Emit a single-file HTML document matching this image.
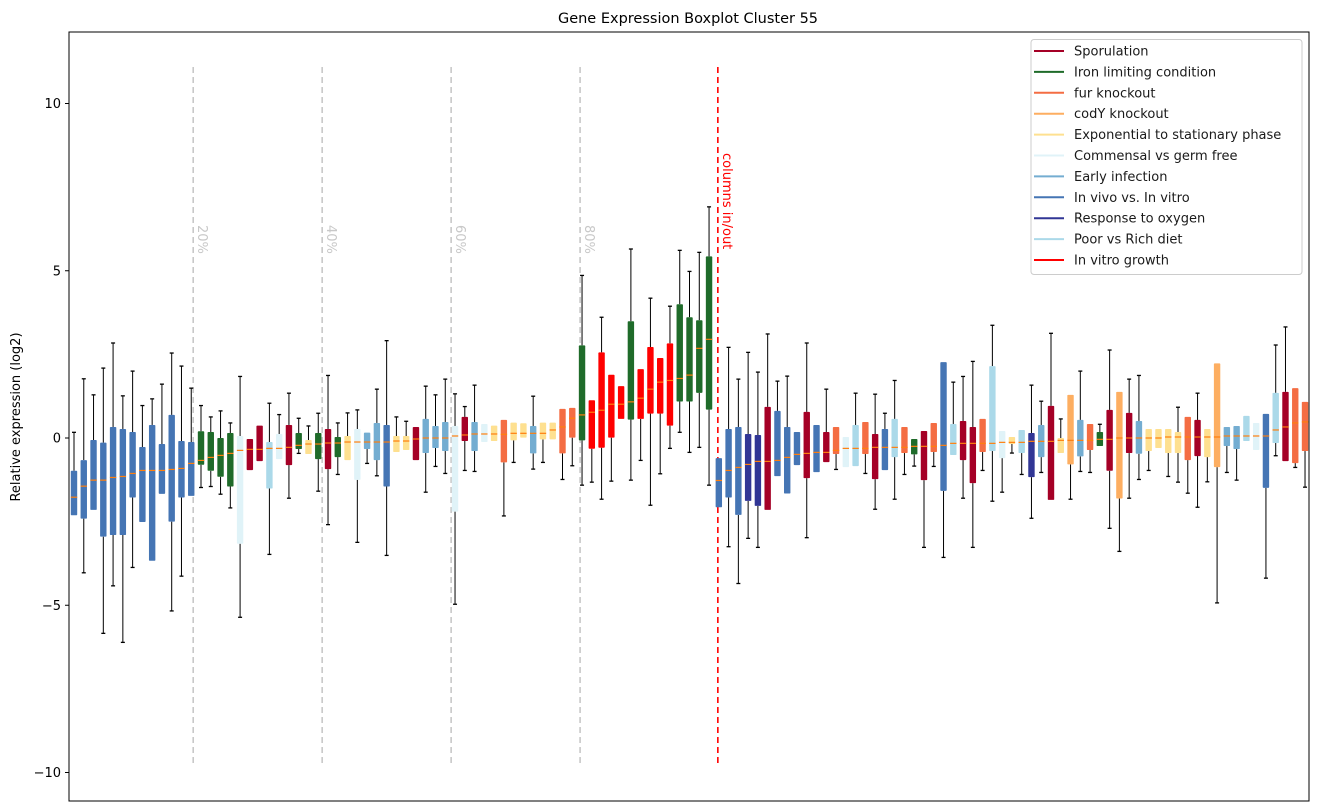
<!DOCTYPE html>
<html><head><meta charset="utf-8">
<style>
html,body{margin:0;padding:0;background:#fff;}
svg{display:block;font-family:"DejaVu Sans","Liberation Sans",sans-serif;}
</style></head>
<body>
<svg id="chart" width="1318" height="812" viewBox="0 0 1318 812" xmlns="http://www.w3.org/2000/svg">
<rect x="0" y="0" width="1318" height="812" fill="#fff"/>
<text x="688" y="23" text-anchor="middle" font-size="14.5" fill="#000">Gene Expression Boxplot Cluster 55</text>
<text transform="translate(20,417) rotate(-90)" text-anchor="middle" font-size="13" fill="#000">Relative expression (log2)</text>
<g id="grid"></g>
<g id="boxes"></g>
<rect x="69" y="32" width="1240" height="769" fill="none" stroke="#000" stroke-width="1"/>
<g id="yaxis"></g>
<g id="legend"></g>
</svg>
<script>
const groups = ["V","V","V","V","V","V","V","V","V","V","V","V","V","I","I","I","I","G","S","S","P","G","S","I","E","I","S","I","E","G","A","A","V","E","E","S","A","A","A","G","S","A","G","E","F","E","E","A","E","E","F","F","I","R","R","R","R","I","R","R","R","R","I","I","I","I",
"V","V","V","O","O","S","V","V","V","S","V","S","F","G","P","F","S","V","P","F","I","S","F","V","P","S","S","F","P","G","E","P","O","A","S","E","C","A","F","I","S","C","S","A","E","E","E","E","F","S","E","C","A","A","P","G","V","P","S","F","F"];
const whiskerHigh = [0.17,1.77,1.29,2.09,2.84,1.26,2.0,0.97,1.17,1.61,2.54,2.15,1.49,0.97,0.63,0.81,0.45,1.84,null,null,1.04,0.7,1.34,0.59,0.36,0.74,1.87,0.45,0.75,0.84,null,1.46,2.91,0.63,0.5,null,1.55,1.29,1.76,1.32,0.94,1.58,null,null,null,null,null,1.25,null,null,null,null,4.86,null,3.61,null,null,5.65,null,4.18,null,3.94,5.61,4.98,5.55,6.91,
null,2.71,1.76,2.56,1.97,3.11,1.7,1.85,null,2.84,null,1.46,null,null,1.34,null,1.31,0.74,1.72,null,null,null,null,null,1.67,1.84,2.29,null,3.37,null,null,null,1.58,1.1,3.13,0.57,null,2.0,null,0.41,2.63,null,1.76,1.87,null,null,null,0.92,null,1.34,null,null,null,null,null,null,null,2.78,3.32,null,null];
const q3Values = [-0.98,-0.66,-0.06,-0.14,0.33,0.27,0.18,-0.27,0.39,-0.18,0.69,-0.09,-0.12,0.2,0.18,0,0.15,0.06,-0.03,0.37,-0.12,0.12,0.39,0.15,-0.06,0.15,0.27,0.03,0.06,0.27,0.16,0.45,0.39,0.06,0.06,0.33,0.57,0.36,0.48,0.36,0.63,0.48,0.42,0.37,0.54,0.46,0.44,0.36,0.46,0.46,0.87,0.9,2.77,1.13,2.56,1.89,1.55,3.49,2.06,2.72,2.39,2.83,4.0,3.61,3.52,5.43,
-0.6,0.27,0.33,0.12,0.09,0.93,0.81,0.33,0.18,0.78,0.39,0.18,0.33,0.03,0.39,0.48,0.12,0.27,0.57,0.33,-0.03,0.21,0.45,2.27,0.42,0.51,0.33,0.57,2.15,0.21,0.03,0.24,0.15,0.39,0.96,0,1.29,0.54,0.42,0.18,0.84,1.38,0.75,0.51,0.27,0.27,0.27,0.18,0.63,0.54,0.27,2.23,0.33,0.36,0.66,0.45,0.72,1.35,1.38,1.49,1.08];
const medianValues = [-1.77,-1.44,-1.26,-1.26,-1.18,-1.15,-1.06,-0.97,-0.97,-0.97,-0.94,-0.91,-0.76,-0.67,-0.58,-0.52,-0.46,-0.37,-0.34,-0.34,-0.31,-0.31,-0.28,-0.22,-0.18,-0.18,-0.15,-0.15,-0.12,-0.12,-0.12,-0.12,-0.12,-0.09,-0.09,-0.03,0,0,0,0.06,0.09,0.12,0.12,0.12,0.11,0.14,0.14,0.14,0.14,0.24,0.33,0.59,0.69,0.77,0.83,1.01,1.01,1.08,1.19,1.46,1.67,1.72,1.78,1.88,2.68,2.95,
-1.27,-0.97,-0.88,-0.79,-0.7,-0.7,-0.67,-0.58,-0.49,-0.46,-0.43,-0.43,-0.37,-0.31,-0.31,-0.31,-0.28,-0.28,-0.28,-0.28,-0.25,-0.25,-0.25,-0.22,-0.16,-0.16,-0.16,-0.16,-0.16,-0.13,-0.13,-0.13,-0.1,-0.1,-0.1,-0.07,-0.07,-0.07,-0.07,-0.04,-0.04,0,0,0,0,0,0.03,0.03,0.03,0.03,0.03,0.03,0.06,0.06,0.06,0.06,0.06,0.24,0.33,0.45,0.48];
const q1Values = [-2.31,-2.41,-2.15,-2.95,-2.9,-2.9,-1.78,-2.51,-3.67,-1.67,-2.5,-1.78,-1.73,-0.8,-0.98,-1.16,-1.45,-3.16,-0.96,-0.69,-1.51,-0.63,-0.81,-0.33,-0.48,-0.63,-0.93,-0.57,-0.66,-1.25,-0.33,-0.66,-1.45,-0.42,-0.36,-0.66,-0.45,-0.3,-0.39,-2.2,-0.09,-0.39,-0.12,-0.09,-0.73,-0.07,0.01,-0.46,-0.04,-0.04,-0.46,0.01,-0.07,-0.32,-0.29,0.01,0.57,0.55,0.57,0.73,0.73,0.37,1.09,1.09,1.35,0.85,
-2.07,-1.78,-2.3,-1.88,-2.03,-2.15,-1.14,-1.66,-0.81,-1.2,-1.02,-0.72,-0.48,-0.87,-0.84,-0.48,-1.23,-0.96,-0.57,-0.45,-0.49,-1.26,-0.42,-1.58,-0.51,-0.66,-1.35,-0.42,-0.39,-0.6,-0.18,-0.45,-1.17,-0.57,-1.85,-0.45,-0.79,-0.55,-0.36,-0.24,-0.98,-1.81,-0.45,-0.47,-0.39,-0.3,-0.45,-0.45,-0.66,-0.54,-0.57,-0.87,-0.24,-0.33,-0.09,-0.36,-1.49,-0.15,-0.69,-0.75,-0.39];
const whiskerLow = [null,-4.03,null,-5.84,-4.42,-6.11,-3.87,null,null,null,-5.17,-4.13,null,-1.48,-1.45,-1.68,-2.09,-5.36,null,null,-3.48,null,-1.8,-0.46,null,-1.59,-2.59,-1.09,null,-3.12,-0.76,-1.13,-3.51,null,null,null,-1.62,-0.85,-1.06,-4.97,-0.97,-1.0,null,null,-2.33,-0.73,null,-0.93,-0.73,null,-1.24,-0.83,-1.41,-1.32,-1.83,-1.29,null,-1.26,-0.67,-2.01,-1.07,-0.31,0.17,-0.43,-0.28,-1.41,
null,-3.25,-4.35,-3.0,-3.27,null,null,null,null,-2.98,null,null,-0.94,null,null,-1.06,-2.13,null,-1.83,-1.09,-0.84,-3.27,-0.85,-3.57,null,-1.8,-3.27,-0.97,-1.89,-1.62,-0.45,-1.09,-2.4,-1.03,null,null,-1.83,-1.0,-1.03,null,-2.7,-3.39,-1.8,-1.24,-0.97,null,-1.15,-1.32,-1.65,-2.07,-1.31,-4.93,-1.03,-1.26,null,null,-4.19,-0.53,null,-0.88,-1.47];
const yTicks = [10,5,0,-5,-10];
const legendLabels = ["Sporulation","Iron limiting condition","fur knockout","codY knockout","Exponential to stationary phase","Commensal vs germ free","Early infection","In vivo vs. In vitro","Response to oxygen","Poor vs Rich diet","In vitro growth"];
const legendKeys = ["S","I","F","C","E","G","A","V","O","P","R"];
const percentLines = [12.2,25.4,38.6,51.8];
const percentLabels = ["20%","40%","60%","80%"];
const splitLine = 65.9;

const colorMap = {S:"#a50026",I:"#1f6b2a",F:"#f46d43",C:"#fdae61",E:"#fee090",G:"#e0f3f8",A:"#74add1",V:"#4575b4",O:"#313695",P:"#abd9e9",R:"#ff0000"};
const NS = "http://www.w3.org/2000/svg";
function xPos(i){ return 74 + i*9.77; }
function yPos(v){ return 438 - v*33.45; }
function mk(tag, attrs, parent){ const e=document.createElementNS(NS,tag); for(const k in attrs) e.setAttribute(k,attrs[k]); parent.appendChild(e); return e; }

const grid = document.getElementById('grid');
percentLines.forEach((p,k)=>{
  const x = xPos(p);
  const l = mk('line',{x1:x,x2:x,y1:67,y2:767,stroke:'#c8c8c8','stroke-width':1.6,'stroke-dasharray':'6,4'},grid);
  
  
  const t = mk('text',{transform:'translate('+(x+5)+',225) rotate(90)','font-size':13,fill:'#c8c8c8'},grid);
  t.textContent = percentLabels[k];
  
  
});
{
  const x = xPos(splitLine);
  const l = mk('line',{x1:x,x2:x,y1:67,y2:767,stroke:'#ff0000','stroke-width':1.6,'stroke-dasharray':'6,4'},grid);
  
  
  const t = mk('text',{transform:'translate('+(x+5)+',153) rotate(90)','font-size':13,fill:'#ff0000'},grid);
  t.textContent = 'columns in/out';
  
  
}

const boxes = document.getElementById('boxes');
groups.forEach((g,i)=>{
  const x = xPos(i);
  const gEl = mk('g',{},boxes);
  
  
  const hi = whiskerHigh[i], lo = whiskerLow[i];
  if(hi!==null){
    mk('line',{x1:x,x2:x,y1:yPos(hi),y2:yPos(q3Values[i]),stroke:'#000','stroke-width':1},gEl);
    mk('line',{x1:x-2,x2:x+2,y1:yPos(hi),y2:yPos(hi),stroke:'#000','stroke-width':1.3},gEl);
  }
  if(lo!==null){
    mk('line',{x1:x,x2:x,y1:yPos(q1Values[i]),y2:yPos(lo),stroke:'#000','stroke-width':1},gEl);
    mk('line',{x1:x-2,x2:x+2,y1:yPos(lo),y2:yPos(lo),stroke:'#000','stroke-width':1.3},gEl);
  }
  const top = yPos(q3Values[i]), bot = yPos(q1Values[i]);
  mk('rect',{x:x-3.2,y:top,width:6.4,height:Math.max(1,bot-top),fill:colorMap[g],rx:0.8},gEl);
  mk('line',{x1:x-3.2,x2:x+3.2,y1:yPos(medianValues[i]),y2:yPos(medianValues[i]),stroke:'#ff7f0e','stroke-width':1.2},gEl);
});

const ya = document.getElementById('yaxis');
yTicks.forEach(v=>{
  const y = yPos(v);
  const t = mk('line',{x1:65,x2:69,y1:y,y2:y,stroke:'#000','stroke-width':1},ya);
  
  
  const lab = mk('text',{x:61,y:y+4.5,'text-anchor':'end','font-size':13,fill:'#000'},ya);
  lab.textContent = v<0 ? '\u2212'+Math.abs(v) : String(v);
  
  
});

const lg = document.getElementById('legend');


mk('rect',{x:1031,y:39.5,width:271,height:235,fill:'#fff','fill-opacity':0.85,stroke:'#cccccc','stroke-width':1,rx:3},lg);
legendLabels.forEach((name,k)=>{
  const y = 51 + k*20.9;
  const e = mk('g',{},lg);
  
  
  mk('line',{x1:1034,x2:1064,y1:y,y2:y,stroke:colorMap[legendKeys[k]],'stroke-width':2},e);
  const t = mk('text',{x:1074,y:y+4.5,'font-size':13,fill:'#1a1a1a'},e);
  t.textContent = name;
});
</script>
</body></html>
